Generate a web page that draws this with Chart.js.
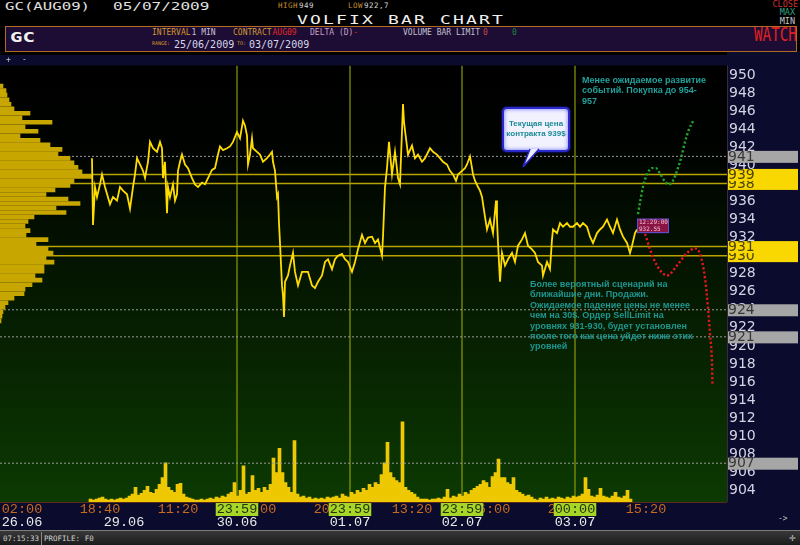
<!DOCTYPE html>
<html>
<head>
<meta charset="utf-8">
<title>VOLFIX BAR CHART</title>
<script src="https://cdn.jsdelivr.net/npm/chart.js@4.4.1/dist/chart.umd.min.js"></script>
<style>
  body { margin:0; width:800px; height:545px; background:#000; position:relative; overflow:hidden; font-family:'DejaVu Sans Mono', monospace; }
  .t { position:absolute; white-space:nowrap; line-height:1; transform-origin:0 0; }
  #panel { position:absolute; left:5px; top:26px; width:790px; height:24px; background:#1d0c33; border:1px solid #b36a22; }
  #navy { position:absolute; left:727px; top:52px; width:73px; height:3px; background:#0b0b2d; }
  #wrap { position:absolute; left:0; top:55px; width:800px; height:475px; }
  #status { position:absolute; left:0; top:530px; width:800px; height:14px; border-top:1px solid #7c7c7c; background:linear-gradient(#383838,#1c1c1c); }
  #status .sep { position:absolute; left:41px; top:1px; width:1px; height:13px; background:#8a8a8a; }
  .note { position:absolute; font:bold 9px 'Liberation Sans', Arial, sans-serif; line-height:10.4px; color:#22a09a; white-space:nowrap; }
  #bubble { position:absolute; left:502px; top:107px; width:64px; height:31px; padding-top:10px; border:2px solid #2a2acc; border-radius:5px;
            background:#f2f2ff; box-shadow:inset 0 0 4px #7070ff, 0 0 2px #3030ff; font:bold 8px 'Liberation Sans', Arial, sans-serif;
            color:#1a8a94; text-align:center; line-height:10px; white-space:nowrap; }
  #tail { position:absolute; left:515px; top:148px; }
</style>
</head>
<body>
<div class="t" style="left:5px;top:2px;font-size:10px;color:#e0e0e0;transform:scaleX(1.57)">GC(AUG09)</div>
<div class="t" style="left:113px;top:2px;font-size:10px;color:#e0e0e0;transform:scaleX(1.6)">05/07/2009</div>
<div class="t" style="left:278px;top:2.4px;font-size:7.5px;letter-spacing:0.5px;color:#c89028">HIGH<span style="color:#d8d8d8;margin-left:1px">949</span></div>
<div class="t" style="left:348px;top:2.4px;font-size:7.5px;letter-spacing:0.5px;color:#c89028">LOW<span style="color:#d8d8d8;margin-left:1px">922,7</span></div>
<div class="t" style="left:297px;top:13.5px;font-size:12.5px;letter-spacing:1.5px;color:#f0f0f0;transform:scaleX(1.44)">VOLFIX BAR CHART</div>
<div class="t" style="right:2px;top:-0.5px;font-size:8.5px;color:#c83030">CLOSE</div>
<div class="t" style="right:5px;top:8px;font-size:8.5px;color:#30a080">MAX</div>
<div class="t" style="right:5px;top:17px;font-size:8.5px;color:#c8c8c8">MIN</div>

<div id="panel"></div>
<div class="t" style="left:10px;top:30px;font-size:14px;font-weight:bold;color:#f0f0f0;transform:scaleX(1.48)">GC</div>
<div class="t" style="left:152px;top:29px;font-size:8px;color:#d09830">INTERVAL<span style="color:#c8c0d8;margin-left:1px">1 MIN</span></div>
<div class="t" style="left:233px;top:29px;font-size:8px;color:#d09830">CONTRACT<span style="color:#e02828;margin-left:1px">AUG09</span></div>
<div class="t" style="left:310px;top:29px;font-size:8px;color:#c8a0c8">DELTA (D)<span style="color:#e02828">-</span></div>
<div class="t" style="left:403px;top:29px;font-size:8px;color:#c0c0d0">VOLUME BAR LIMIT<span style="color:#c04848;margin-left:3px">0</span><span style="color:#208040;margin-left:24px">0</span></div>
<div class="t" style="left:152px;top:41px;font-size:5px;color:#d09830">RANGE:</div>
<div class="t" style="left:174px;top:39.5px;font-size:10px;color:#d8d8ec">25/06/2009</div>
<div class="t" style="left:237px;top:41px;font-size:5px;color:#d09830">TO:</div>
<div class="t" style="left:249px;top:39.5px;font-size:10px;color:#d8d8ec">03/07/2009</div>
<div class="t" style="left:754px;top:24.5px;font-size:19px;color:#e02020;transform:scaleX(0.75)">WATCH</div>
<div id="navy"></div>

<div id="wrap"><canvas id="canvas"></canvas></div>

<div class="t" style="left:6px;top:56px;font-size:8px;color:#c8c8c8">+</div>
<div class="t" style="left:22px;top:56px;font-size:8px;color:#c8c8c8">-</div>

<div class="note" style="left:582px;top:75px">Менее ожидаемое развитие<br>событий. Покупка до 954-<br>957</div>
<div class="note" style="left:530px;top:279px;color:#1e9590">Более вероятный сценарий на<br>ближайшие дни. Продажи.<br>Ожидаемое падение цены не менее<br>чем на 30$.  Ордер SellLimit на<br>уровнях 931-930, будет установлен<br>после того как цена уйдет ниже этих<br>уровней</div>

<div id="bubble">Текущая цена<br>контракта 939$</div>
<svg id="tail" width="30" height="22">
  <polygon points="15,1 24,1 8,19" fill="#eeeeff"/>
  <polyline points="15,1 8,19 24,1" fill="none" stroke="#2a2acc" stroke-width="1.5"/>
</svg>

<div class="t" style="left:778px;top:515px;font-size:8px;color:#c0c0c0">-&gt;</div>
<div id="status">
  <div class="t" style="left:3px;top:4px;font-size:7.5px;color:#d0d0d0">07:15:33</div>
  <div class="sep"></div>
  <div class="t" style="left:44px;top:4px;font-size:7.5px;color:#d0d0d0">PROFILE: F0</div>
  <div class="t" style="left:789px;top:1px;font-size:11px;color:#c0c0c0">&#x271B;</div>
</div>

<script>
// time runs along "slots" of roughly 12.8 trading minutes; the plot shows slots 0..727
var X_MIN = 0, X_MAX = 727;
var Y_MIN = 902.7, Y_MAX = 951.08;

// 1-min GC price
var priceT = [92,93,95,97,100,102,105,110,113,117,
  120,123,127,130,133,135,137,140,143,145,
  148,150,153,157,160,162,163,165,167,168,
  170,173,175,177,178,180,182,185,188,192,
  195,198,202,205,208,212,215,218,220,223,
  227,230,233,237,240,243,245,247,248,250,
  252,253,257,260,263,267,270,272,273,275,
  277,278,279,280,282,283,284,285,288,290,
  293,295,298,302,305,308,312,315,318,322,
  325,328,332,335,338,342,345,348,352,355,
  358,362,365,368,372,375,378,382,383,385,
  387,389,392,395,398,400,403,404,406,408,
  412,415,418,422,425,430,433,437,440,443,
  447,450,453,456,458,462,465,467,470,472,
  473,475,478,480,482,485,487,490,493,496,
  497,498,500,502,505,508,512,515,518,522,
  525,528,532,535,538,542,543,547,550,552,
  553,557,560,563,567,570,573,577,580,583,
  587,590,593,597,600,603,607,610,613,617,
  620,623,627,630,632,635,637];
var priceP = [940.8,933.4,937.6,936.5,937.9,939.0,937.6,935.7,936.5,936.1,
  937.6,937.2,936.8,935.2,937.6,939.0,940.8,940.1,939.4,938.6,
  940.4,942.6,941.9,941.5,942.6,941.9,938.6,940.4,934.7,937.6,
  936.5,937.9,936.1,936.8,939.4,940.4,941.2,940.1,939.7,938.6,
  937.9,937.6,938.1,937.9,938.6,939.5,939.7,941.2,942.1,941.7,
  941.9,942.1,942.6,943.7,943.0,944.95,944.4,943.3,940.1,941.2,
  943.0,941.9,941.5,941.2,940.4,940.8,941.2,941.5,940.4,939.4,
  936.5,936.8,933.6,931.4,926.7,925.6,923.2,927.1,927.8,928.9,
  930.3,928.2,926.7,928.2,928.2,928.2,926.7,926.4,927.1,927.8,
  929.3,929.6,928.5,929.6,930.0,930.2,929.6,929.3,928.2,929.3,
  930.7,932.3,931.4,932.0,932.1,931.4,931.8,930.0,932.1,937.6,
  939.7,942.6,939.0,941.5,938.6,937.9,946.8,944.8,943.0,941.2,
  942.2,940.8,941.2,940.4,940.8,941.9,941.5,941.2,940.8,940.4,
  940.1,939.4,939.0,938.3,939.0,939.4,939.7,940.1,941.0,939.7,
  939.0,938.3,937.6,937.2,936.5,934.3,932.9,934.0,932.5,936.1,
  934.0,931.4,927.1,930.3,928.9,929.6,930.3,929.3,931.1,931.8,
  932.5,931.1,930.7,930.3,929.3,928.9,927.8,929.3,928.5,931.8,
  932.9,932.5,933.6,933.2,933.6,933.2,933.2,933.6,933.2,933.6,
  933.2,932.1,931.4,932.5,932.9,933.2,934.0,933.2,932.5,934.0,
  932.9,932.1,931.4,930.3,931.1,932.5,932.9];

// hand-drawn scenarios
var upT = [638,640,643,647,652,656,660,665,669,673,677,681,685,689,694];
var upP = [934.6,935.9,937.6,939.0,939.7,939.7,939.1,938.2,937.9,938.3,939.4,940.8,942.6,944.0,945.1];
var downT = [640,645,650,657,667,677,687,695,700,705,708,710,712,712.5];
var downP = [933.2,932.4,930.7,928.9,927.8,928.9,930.3,930.8,930.2,927.5,924.2,921.3,918.1,915.6];

// volume histogram, one value every volStep slots
var volStart = 92, volStep = 3;
var volume = [3,2,3,4,5,3,2,3,2,3,
  4,3,4,6,8,15,7,9,12,16,
  10,9,13,18,25,40,15,12,10,18,
  19,8,5,4,3,2,2,3,2,3,
  4,3,5,4,6,5,8,10,20,6,
  12,37,8,10,27,12,14,10,15,12,
  18,45,30,55,30,20,15,10,63,8,
  5,6,4,5,3,4,3,4,3,5,
  4,5,6,4,8,6,5,10,8,12,
  10,14,12,18,15,20,18,28,40,61,
  30,25,22,20,82,15,12,10,8,5,
  3,3,3,2,3,3,4,3,5,13,
  4,6,5,8,6,10,8,12,14,16,
  18,22,20,15,26,30,44,25,25,20,
  18,25,12,10,8,6,7,5,3,2,
  4,3,5,3,4,3,5,4,3,5,
  4,6,5,6,8,25,13,6,5,7,
  14,6,5,4,6,10,5,4,6,12,
  3];

// volume at price (left profile), from 949.0 down in 0.5 steps
var profileTop = 949.0, profileStep = 0.5;
var profile = [3,6,7,9,11,14,30,22,52,25,
  38,20,40,50,62,58,70,74,78,82,
  92,74,70,55,46,68,80,56,66,34,
  28,25,30,26,48,36,48,53,46,54,
  44,44,35,42,32,25,24,14,8,5,
  3,2,1];

// levels
var solidLevels = [939, 938, 931, 930];
var dottedLevels = [941, 924, 921, 907];

// time axis
var timeTickT = [22,100,178,256,334,412,490,568,646];
var timeTickL = ['02:00','18:40','11:20','04:00','20:40','13:20','06:00','22:40','15:20'];
var daySepT = [237,350,462,575];
var daySepL = ['23:59','23:59','23:59','00:00'];
var dateT = [22,124,237,350,462,575];
var dateL = ['26.06','29.06','30.06','01.07','02.07','03.07'];

var tagTime = '12:29:00', tagPrice = 932.55;

function pts(ts, ps) {
	var out = [];
	for (var i = 0; i < ts.length; i++) out.push({x: ts[i], y: ps[i]});
	return out;
}

var datasets = [];
datasets.push({data: pts(upT, upP), borderColor: '#22a52a', borderWidth: 2.4, borderDash: [2.2, 2.2],
	pointRadius: 0, cubicInterpolationMode: 'monotone', order: 0});
datasets.push({data: pts(downT, downP), borderColor: '#e81818', borderWidth: 2.4, borderDash: [2.2, 2.2],
	pointRadius: 0, cubicInterpolationMode: 'monotone', order: 0});
datasets.push({data: pts(priceT, priceP), borderColor: '#ffdc00', borderWidth: 1.8, pointRadius: 0, order: 1});

var profData = [];
for (var i = 0; i < profile.length; i++) profData.push({x: profile[i], y: profileTop - i * profileStep});
datasets.push({type: 'bar', indexAxis: 'y', xAxisID: 'xp', yAxisID: 'y', data: profData,
	backgroundColor: '#c8a600', barThickness: 4, order: 2});

solidLevels.forEach(function(v) {
	datasets.push({data: [{x: X_MIN, y: v}, {x: X_MAX, y: v}], borderColor: '#b8a400', borderWidth: 1.5, pointRadius: 0, order: 3});
});
dottedLevels.forEach(function(v) {
	datasets.push({data: [{x: X_MIN, y: v}, {x: X_MAX, y: v}], borderColor: '#9a9a9a', borderWidth: 1, borderDash: [2, 2], pointRadius: 0, order: 3});
});

var volData = [];
for (var i = 0; i < volume.length; i++) volData.push({x: volStart + i * volStep, y: volume[i]});
datasets.push({type: 'bar', xAxisID: 'x', yAxisID: 'yv', data: volData, backgroundColor: '#eec800', barThickness: 3, order: 4});

daySepT.forEach(function(s) {
	datasets.push({data: [{x: s, y: Y_MIN}, {x: s, y: Y_MAX}], borderColor: '#8c9a0a', borderWidth: 1.2, pointRadius: 0, order: 5});
});

function isSep(c) { return c.tick && daySepT.indexOf(c.tick.value) >= 0; }

var frame = {
	id: 'frame',
	beforeDraw: function(chart) {
		var ctx = chart.ctx, a = chart.chartArea;
		ctx.save();
		ctx.fillStyle = '#0b0b2d';
		ctx.fillRect(0, 0, chart.width, chart.height);
		var g = ctx.createLinearGradient(0, a.top, 0, a.bottom);
		g.addColorStop(0, '#000000');
		g.addColorStop(0.2, '#000300');
		g.addColorStop(1, '#0c3a02');
		ctx.fillStyle = g;
		ctx.fillRect(a.left, a.top, a.right - a.left, a.bottom - a.top);
		ctx.restore();
	},
	afterDraw: function(chart) {
		var ctx = chart.ctx, a = chart.chartArea, ys = chart.scales.y, xs = chart.scales.x;
		ctx.save();
		ctx.strokeStyle = '#5a2a1a';
		ctx.lineWidth = 1;
		ctx.beginPath(); ctx.moveTo(0, a.bottom + 0.5); ctx.lineTo(a.right, a.bottom + 0.5); ctx.stroke();
		ctx.strokeStyle = '#3a2a3a';
		ctx.beginPath(); ctx.moveTo(a.right + 0.5, a.top); ctx.lineTo(a.right + 0.5, a.bottom); ctx.stroke();

		// level marks on the price axis
		var marks = [];
		solidLevels.forEach(function(v) { marks.push({v: v, bg: '#f8d800', fg: '#4a4208'}); });
		dottedLevels.forEach(function(v) { marks.push({v: v, bg: '#a6a6a6', fg: '#383838'}); });
		marks.sort(function(p, q) { return p.v - q.v; });
		ctx.font = '14px "DejaVu Sans"';
		ctx.textBaseline = 'middle';
		ctx.textAlign = 'left';
		marks.forEach(function(m) {
			var y = ys.getPixelForValue(m.v);
			ctx.fillStyle = m.bg;
			ctx.fillRect(a.right + 1, y - 5.5, 70, 12);
			ctx.fillStyle = m.fg;
			ctx.fillText(String(m.v), a.right + 1, y + 0.5);
		});

		// last price tag
		var lx = xs.getPixelForValue(priceT[priceT.length - 1]);
		var ly = ys.getPixelForValue(tagPrice);
		ctx.fillStyle = '#8a1444';
		ctx.fillRect(lx, ly - 14, 32, 14.5);
		ctx.strokeStyle = '#5b52dc';
		ctx.strokeRect(lx + 0.5, ly - 13.5, 31, 13.5);
		ctx.font = '6px "DejaVu Sans Mono"';
		ctx.fillStyle = '#f4c0d4';
		ctx.fillText(tagTime, lx + 2, ly - 10.5);
		ctx.fillText(tagPrice.toFixed(2), lx + 2, ly - 3.5);
		ctx.restore();
	}
};

var ctx = document.getElementById('canvas').getContext('2d');
window.myChart = new Chart(ctx, {
	type: 'line',
	data: {datasets: datasets},
	plugins: [frame],
	options: {
		responsive: true,
		maintainAspectRatio: false,
		animation: false,
		events: [],
		layout: {padding: 0, autoPadding: false},
		plugins: {legend: {display: false}, tooltip: {enabled: false}},
		scales: {
			x: {
				type: 'linear', position: 'bottom', weight: 0, min: X_MIN, max: X_MAX, offset: false,
				grid: {display: false, drawTicks: false}, border: {display: false},
				afterBuildTicks: function(s) {
					s.ticks = timeTickT.map(function(v) { return {value: v}; })
						.concat(daySepT.map(function(v) { return {value: v}; }));
				},
				afterFit: function(s) { s.height = 14; },
				ticks: {
					autoSkip: false, maxRotation: 0, minRotation: 0, padding: 1,
					font: {family: 'Liberation Mono', size: 13.5, lineHeight: 1},
					color: function(c) { return isSep(c) ? '#27300a' : '#c96b1e'; },
					showLabelBackdrop: true,
					backdropColor: function(c) { return isSep(c) ? '#a6d628' : 'rgba(0,0,0,0)'; },
					backdropPadding: {top: 0, bottom: 0, left: 1, right: 1},
					callback: function(v) {
						var k = daySepT.indexOf(v);
						if (k >= 0) return daySepL[k];
						k = timeTickT.indexOf(v);
						return k >= 0 ? timeTickL[k] : '';
					}
				}
			},
			xd: {
				type: 'linear', position: 'bottom', weight: 1, min: X_MIN, max: X_MAX, offset: false,
				grid: {display: false, drawTicks: false}, border: {display: false},
				afterBuildTicks: function(s) { s.ticks = dateT.map(function(v) { return {value: v}; }); },
				afterFit: function(s) { s.height = 14; },
				ticks: {
					autoSkip: false, maxRotation: 0, minRotation: 0, padding: 0,
					font: {family: 'Liberation Mono', size: 13.5, lineHeight: 1},
					color: '#eaeaea',
					callback: function(v) { var k = dateT.indexOf(v); return k >= 0 ? dateL[k] : ''; }
				}
			},
			xp: {type: 'linear', display: false, min: 0, max: X_MAX, offset: false},
			y: {
				type: 'linear', position: 'right', min: Y_MIN, max: Y_MAX, offset: false,
				grid: {display: false, drawTicks: false}, border: {display: false},
				afterFit: function(s) { s.width = 73; },
				ticks: {
					stepSize: 2, includeBounds: false, maxTicksLimit: 40, autoSkip: false, padding: 2,
					color: '#d4d4e4', font: {family: 'DejaVu Sans', size: 14}
				}
			},
			yv: {type: 'linear', display: false, min: 0, max: 447}
		}
	}
});
</script>
</body>
</html>
